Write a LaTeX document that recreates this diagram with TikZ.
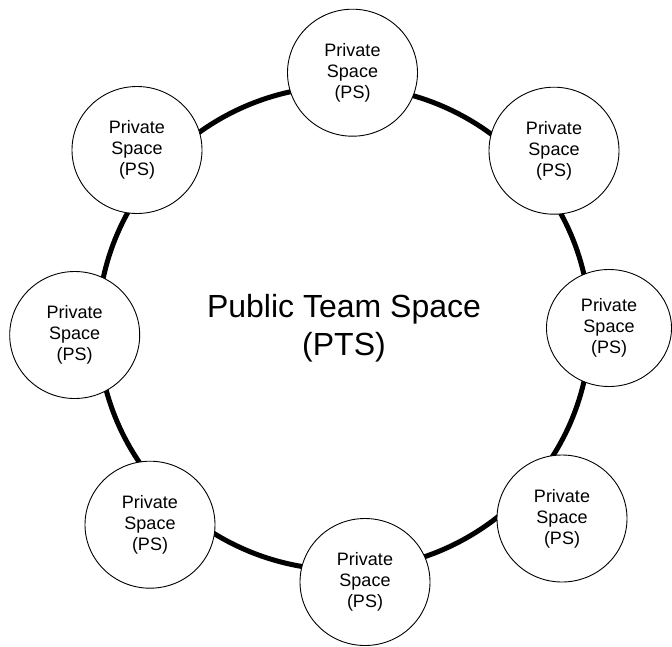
\documentclass[tikz,border=0pt]{standalone}
\usepackage{fontspec}
\setmainfont{Liberation Sans}
\usetikzlibrary{shapes.geometric}
\begin{document}
\begin{tikzpicture}[x=1pt,y=-1pt,
  ps/.style={ellipse,draw=black,line width=0.9pt,fill=white,
    minimum width=130pt,minimum height=127pt,inner sep=0pt,
    align=center,font=\fontsize{18}{21}\selectfont},
  psr/.style={ps,minimum width=125pt,minimum height=117pt},
  pts/.style={ellipse,draw=black,line width=5pt,
    minimum width=492pt,minimum height=484pt,inner sep=0pt,
    align=center,font=\fontsize{32}{38}\selectfont}]
\useasboundingbox (0,0) rectangle (672,646);
\node[pts] (pts) at (344,328) {Public Team Space\\(PTS)};
\node[ps]  (top) at (352.5,72.7) {Private\\Space\\(PS)};
\node[ps]  (rt)  at (554,150.7)  {Private\\Space\\(PS)};
\node[psr] (r)   at (609,328)    {Private\\Space\\(PS)};
\node[ps]  (rb)  at (562,518.5)  {Private\\Space\\(PS)};
\node[ps]  (b)   at (365,582)    {Private\\Space\\(PS)};
\node[ps]  (lb)  at (150,524.7)  {Private\\Space\\(PS)};
\node[ps]  (l)   at (74.7,335)   {Private\\Space\\(PS)};
\node[ps]  (lt)  at (137,150)    {Private\\Space\\(PS)};
\end{tikzpicture}
\end{document}
